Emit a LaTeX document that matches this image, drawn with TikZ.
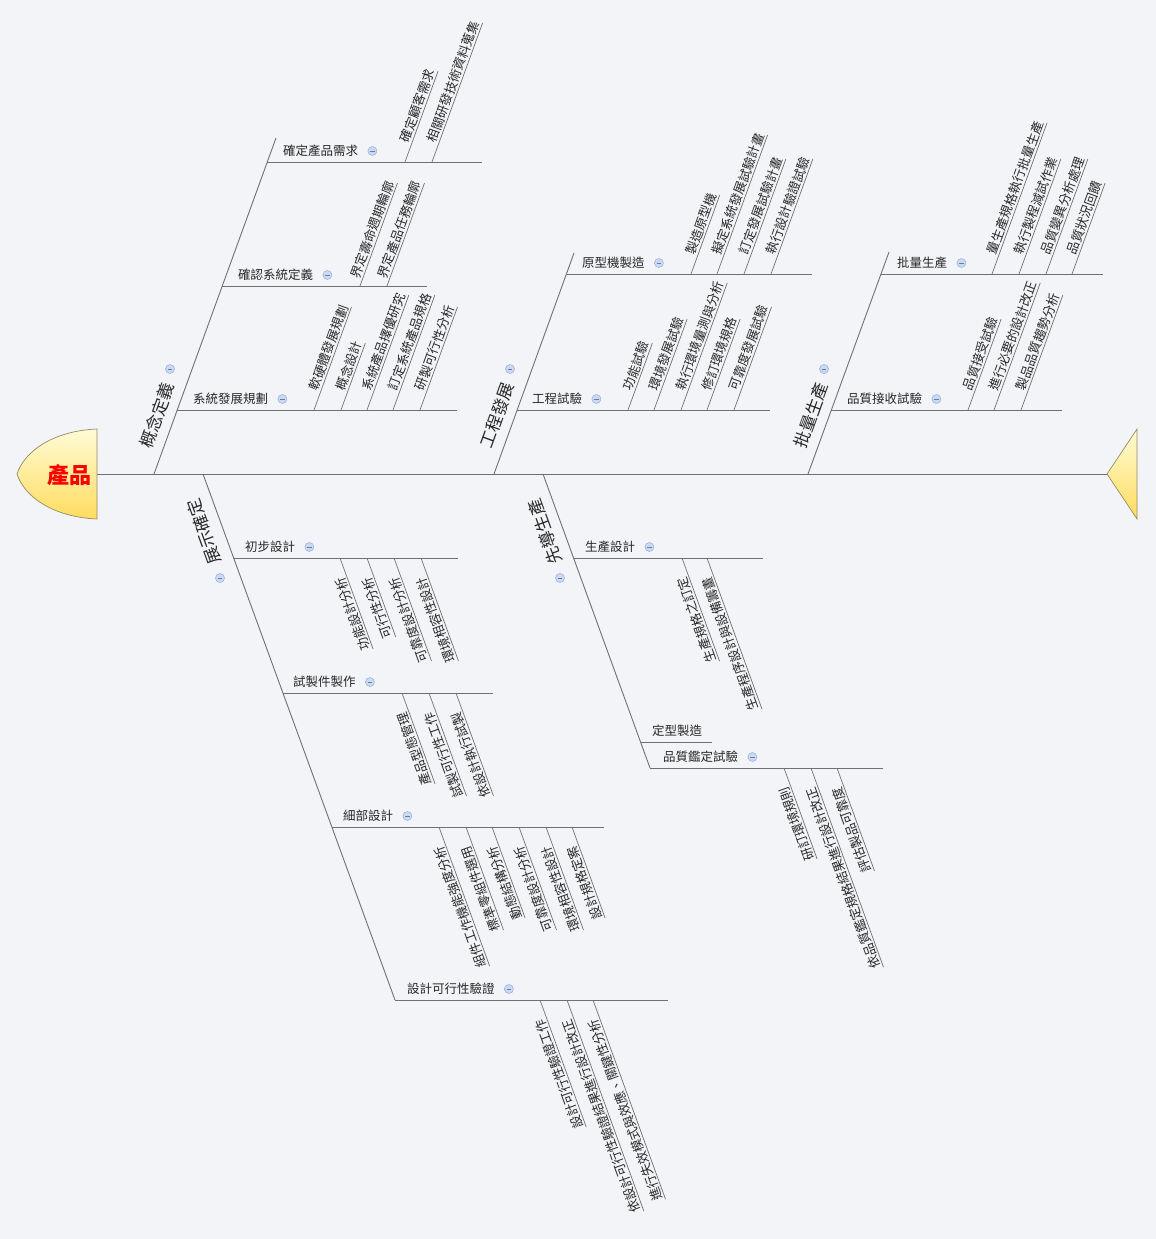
\documentclass[tikz,border=0pt]{standalone}
\usepackage{fontspec}
\setmainfont{Noto Sans CJK TC}
\usetikzlibrary{calc}
\definecolor{bg}{RGB}{242,244,247}
\definecolor{ln}{RGB}{112,112,112}
\definecolor{tx}{RGB}{40,40,40}
\definecolor{iconfill}{RGB}{204,217,240}
\definecolor{icondraw}{RGB}{150,174,218}
\definecolor{iconminus}{RGB}{95,125,185}
\definecolor{headtop}{RGB}{255,251,214}
\definecolor{headbot}{RGB}{255,220,95}
\definecolor{hd}{RGB}{150,140,100}
\newcount\leafcnt
\tikzset{
  bone/.style={draw=ln, line width=0.9pt},
  subline/.style={draw=ln, line width=0.85pt},
  twig/.style={draw=ln, line width=0.7pt},
  leaftext/.style={font=\fontsize{12.8}{14}\selectfont, text=tx, inner sep=1.4pt},
  sublabel/.style={font=\fontsize{12.5}{14}\selectfont, text=tx, inner sep=0pt, anchor=west},
  bonelabel/.style={font=\fontsize{17}{19}\selectfont, text=tx, inner sep=0pt},
  headtext/.style={font=\fontsize{22}{24}\selectfont\bfseries, text=red, inner sep=0pt},
  iconc/.style={circle, draw=icondraw, fill=iconfill, minimum size=9pt, inner sep=0pt, line width=0.5pt,
    path picture={\draw[draw=iconminus, line width=0.8pt] ([xshift=-2.3pt]path picture bounding box.center) -- ([xshift=2.3pt]path picture bounding box.center);}},
  fishend/.style={draw=hd, line width=0.7pt, top color=headtop, bottom color=headbot}
}
\newcommand\leafup[4]{%
  \global\advance\leafcnt by 1\relax
  \pgfmathsetmacro\LL{12.8*#3+20}%
  \coordinate (lb\the\leafcnt) at (#1,#2);
  \coordinate (le\the\leafcnt) at ($(lb\the\leafcnt)+({0.342*\LL},{-0.9397*\LL})$);
  \draw[twig] (lb\the\leafcnt) -- (le\the\leafcnt);
  \node[leaftext,rotate=70,anchor=south east] (lt\the\leafcnt) at (le\the\leafcnt) {#4};
}
\newcommand\leafdown[4]{%
  \global\advance\leafcnt by 1\relax
  \pgfmathsetmacro\LL{12.8*#3+20}%
  \coordinate (lb\the\leafcnt) at (#1,#2);
  \coordinate (le\the\leafcnt) at ($(lb\the\leafcnt)+({0.342*\LL},{0.9397*\LL})$);
  \draw[twig] (lb\the\leafcnt) -- (le\the\leafcnt);
  \node[leaftext,rotate=110,anchor=south west] (lt\the\leafcnt) at (le\the\leafcnt) {#4};
}
% name, junction x, y, end x, label, label start x
\newcommand\subbr[6]{%
  \coordinate (#1j) at (#2,#3);
  \coordinate (#1e) at (#4,#3);
  \draw[subline] (#1j) -- (#1e);
  \node[sublabel] (#1) at (#6,#3-11) {#5};
  \node[iconc] (#1i) at ($(#1.east)+(14,0)$) {};
}
\begin{document}
\begin{tikzpicture}[x=1pt,y=-1pt]
\path[fill=bg] (0,0) rectangle (1156,1239);
\useasboundingbox (0,0) rectangle (1156,1239);

% head and tail
\path[fishend] (97,429) .. controls (52,431) and (24,452) .. (17,474) .. controls (24,496) and (52,517) .. (97,519) -- cycle;
\node[headtext] (head) at (69,475) {產品};
\path[fishend] (1107,474) -- (1137,429) -- (1137,519) -- cycle;
\coordinate (spineL) at (97,474);
\coordinate (spineR) at (1107,474);
\draw[bone] (spineL) -- (spineR);

% ---------- bone A: 概念定義
\coordinate (A0) at (154,474); \coordinate (A1) at (276,138);
\draw[bone] (A0) -- (A1);
\node[bonelabel,rotate=70] (Al) at (157,415) {概念定義};
\node[iconc] (Ai) at (170,369) {};
\subbr{A1s}{267}{162}{482}{確定產品需求}{283}
\leafup{405}{162}{6}{確定顧客需求}
\leafup{432}{162}{10}{相關研發技術資料蒐集}
\subbr{A2s}{222}{286}{427}{確認系統定義}{238}
\leafup{360}{286}{7}{界定壽命週期輪廓}
\leafup{387}{286}{7}{界定產品任務輪廓}
\subbr{A3s}{177}{410}{457}{系統發展規劃}{193}
\leafup{314}{410}{7}{軟硬體發展規劃}
\leafup{341}{410}{4}{概念設計}
\leafup{367}{410}{8}{系統產品擇優研究}
\leafup{393}{410}{8}{訂定系統產品規格}
\leafup{420}{410}{7}{研製可行性分析}

% ---------- bone B: 工程發展
\coordinate (B0) at (494,474); \coordinate (B1) at (574,253);
\draw[bone] (B0) -- (B1);
\node[bonelabel,rotate=70] (Bl) at (497,415) {工程發展};
\node[iconc] (Bi) at (510,369) {};
\subbr{B1s}{567}{274}{812}{原型機製造}{582}
\leafup{691}{274}{5}{製造原型機}
\leafup{717}{274}{10}{擬定系統發展試驗計畫}
\leafup{744}{274}{8}{訂定發展試驗計畫}
\leafup{771}{274}{8}{執行設計驗證試驗}
\subbr{B2s}{517}{410}{770}{工程試驗}{532}
\leafup{628}{410}{4}{功能試驗}
\leafup{654}{410}{6}{環境發展試驗}
\leafup{681}{410}{9}{執行環境量測與分析}
\leafup{707}{410}{6}{修訂環境規格}
\leafup{734}{410}{7}{可靠度發展試驗}

% ---------- bone C: 批量生產
\coordinate (C0) at (808,474); \coordinate (C1) at (889,252);
\draw[bone] (C0) -- (C1);
\node[bonelabel,rotate=70] (Cl) at (811,415) {批量生產};
\node[iconc] (Ci) at (824,369) {};
\subbr{C1s}{881}{274}{1103}{批量生產}{897}
\leafup{992}{274}{11}{量生產規格執行批量生產}
\leafup{1019}{274}{8}{執行製程減試作業}
\leafup{1046}{274}{8}{品質變異分析處理}
\leafup{1072}{274}{6}{品質狀況回饋}
\subbr{C2s}{831}{410}{1062}{品質接收試驗}{847}
\leafup{968}{410}{6}{品質接受試驗}
\leafup{994}{410}{9}{進行必要的設計改正}
\leafup{1021}{410}{8}{製品品質趨勢分析}

% ---------- bone D: 展示確定
\coordinate (D0) at (203,474); \coordinate (D1) at (395,1000);
\draw[bone] (D0) -- (D1);
\node[bonelabel,rotate=110] (Dl) at (204,532) {展示確定};
\node[iconc] (Di) at (220,578) {};
\subbr{D1s}{234}{558}{458}{初步設計}{245}
\leafdown{340}{558}{6}{功能設計分析}
\leafdown{367}{558}{5}{可行性分析}
\leafdown{394}{558}{7}{可靠度設計分析}
\leafdown{421}{558}{7}{環境相容性設計}
\subbr{D2s}{283}{693}{493}{試製件製作}{293}
\leafdown{402}{693}{6}{產品型態管理}
\leafdown{429}{693}{7}{試製可行性工作}
\leafdown{456}{693}{7}{依設計執行試製}
\subbr{D3s}{332}{827}{604}{細部設計}{343}
\leafdown{439}{827}{10}{組件工作機能強度分析}
\leafdown{466}{827}{7}{標準零組件選用}
\leafdown{492}{827}{6}{動態結構分析}
\leafdown{519}{827}{7}{可靠度設計分析}
\leafdown{546}{827}{7}{環境相容性設計}
\leafdown{572}{827}{6}{設計規格定案}
\subbr{D4s}{395}{1000}{668}{設計可行性驗證}{407}
\leafdown{540}{1000}{9}{設計可行性驗證工作}
\leafdown{567}{1000}{16}{依設計可行性驗證結果進行設計改正}
\leafdown{593}{1000}{15}{進行失效模式與效應、關鍵性分析}

% ---------- bone E: 先導生產
\coordinate (E0) at (543,474); \coordinate (E1) at (650,768);
\draw[bone] (E0) -- (E1);
\node[bonelabel,rotate=110] (El) at (545,532) {先導生產};
\node[iconc] (Ei) at (560,578) {};
\subbr{E1s}{574}{558}{763}{生產設計}{585}
\leafdown{682}{558}{7}{生產規格之訂定}
\leafdown{707}{558}{11}{生產程序設計與設備籌畫}
\coordinate (E2sj) at (641,742); \coordinate (E2se) at (712,742);
\draw[subline] (E2sj) -- (E2se);
\node[sublabel] (E2s) at (652,731) {定型製造};
\subbr{E3s}{650}{768}{883}{品質鑑定試驗}{663}
\leafdown{784}{768}{6}{研訂環境規則}
\leafdown{811}{768}{15}{依品質鑑定規格結果進行設計改正}
\leafdown{837}{768}{7}{評估製品可靠度}
\end{tikzpicture}
\end{document}
